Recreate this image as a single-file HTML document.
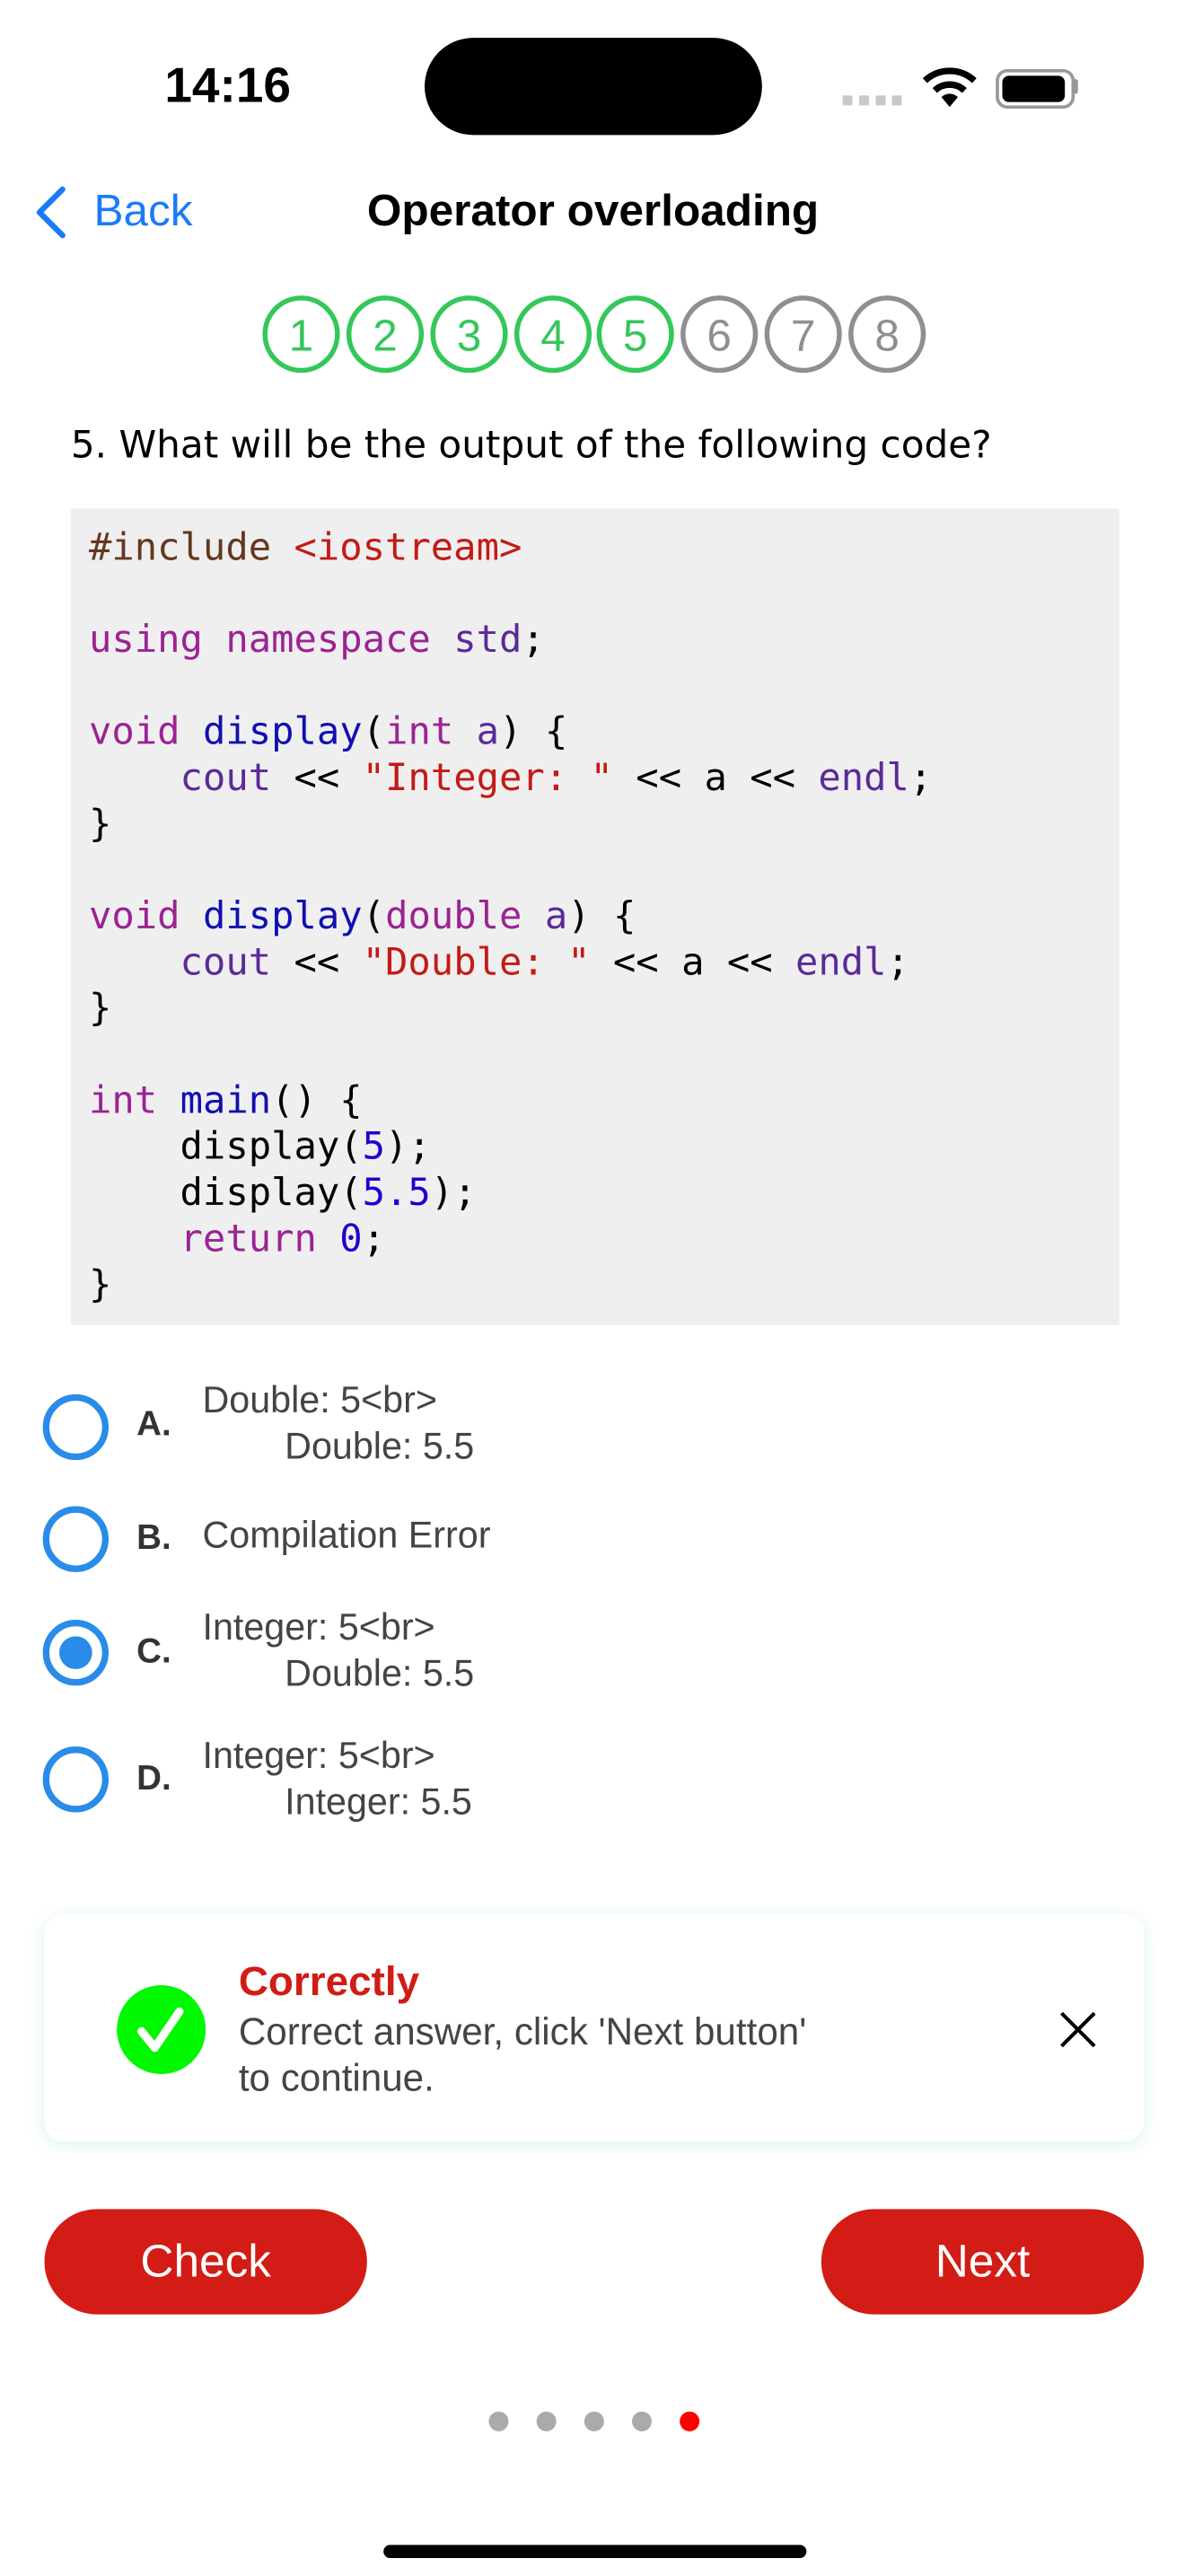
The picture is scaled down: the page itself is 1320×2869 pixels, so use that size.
<!DOCTYPE html>
<html><head><meta charset="utf-8"><style>
html,body{margin:0;padding:0;background:#fff;width:1320px;height:2868px;overflow:hidden}
#w{position:absolute;left:0;top:0;width:720px;height:1565px;transform:scale(1.83333);transform-origin:0 0;font-family:"Liberation Sans",sans-serif}
.a{position:absolute;white-space:pre}
.code{position:absolute;left:43px;top:309px;width:637px;height:496px;background:#efefef}
.code pre{margin:0;position:absolute;left:11px;top:10px;font-family:"DejaVu Sans Mono","Liberation Mono",monospace;font-size:23px;line-height:28px;color:#000}
.k{color:#9b2393}.f{color:#1010b0}.s{color:#c41a16}.p{color:#643820}.n{color:#1c00cf}.c{color:#5b2a99}
.rad{position:absolute;left:26px;width:32px;height:32px;border:4px solid #2a8ce8;border-radius:50%}
.lab{position:absolute;left:83px;font-weight:bold;font-size:21px;color:#333}
.opt{position:absolute;left:123px;font-size:22.5px;color:#444;line-height:28px;white-space:pre}
.btn{position:absolute;top:1342px;width:196px;height:64px;border-radius:32px;background:#d21c15;color:#fff;font-size:28px;text-align:center;line-height:64px}
.dot{position:absolute;top:1465px;width:12px;height:12px;border-radius:50%;background:#aaa}
</style></head><body><div id="w">
<div class="a" style="left:100px;top:36px;font-size:30px;font-weight:bold">14:16</div>
<div class="a" style="left:258px;top:23px;width:205px;height:59px;border-radius:30px;background:#000"></div>
<div class="a" style="left:512px;top:58px;width:36px;height:6px;background:repeating-linear-gradient(90deg,#c8c8c8 0 6px,transparent 6px 10px)"></div>
<svg class="a" style="left:560px;top:40px" width="34" height="26" viewBox="0 0 34 26"><path d="M2 9 A22 22 0 0 1 32 9" stroke="#000" stroke-width="4" fill="none"/><path d="M8 15 A13 13 0 0 1 26 15" stroke="#000" stroke-width="4" fill="none"/><path d="M12 19 L17 25 L22 19 A7 7 0 0 0 12 19Z" fill="#000"/></svg>
<div class="a" style="left:605px;top:42px;width:44px;height:20px;border:2px solid #999;border-radius:7px"></div>
<div class="a" style="left:609px;top:46px;width:38px;height:16px;background:#000;border-radius:4px"></div>
<div class="a" style="left:652px;top:48px;width:3px;height:9px;background:#999;border-radius:2px"></div>
<svg class="a" style="left:18px;top:112px" width="26" height="34"><path d="M20 3 L6 17 L20 31" stroke="#1a7cf5" stroke-width="3.5" fill="none" stroke-linecap="round" stroke-linejoin="round"/></svg>
<div class="a" style="left:57px;top:113px;font-size:27px;color:#1a7cf5">Back</div>
<div class="a" style="left:223px;top:113px;font-size:27px;font-weight:bold;color:#000">Operator overloading</div>
<svg class="a" style="left:0;top:170px" width="720" height="66">
<g font-family="Liberation Sans,sans-serif" font-size="27" text-anchor="middle" stroke-width="3" fill="none">
<circle cx="183" cy="33" r="22" stroke="#34c759"/><circle cx="234" cy="33" r="22" stroke="#34c759"/><circle cx="285" cy="33" r="22" stroke="#34c759"/><circle cx="336" cy="33" r="22" stroke="#34c759"/><circle cx="386" cy="33" r="22" stroke="#34c759"/><circle cx="437" cy="33" r="22" stroke="#8e8e93"/><circle cx="488" cy="33" r="22" stroke="#8e8e93"/><circle cx="539" cy="33" r="22" stroke="#8e8e93"/>
<text x="183" y="43" fill="#34c759" stroke="none">1</text><text x="234" y="43" fill="#34c759" stroke="none">2</text><text x="285" y="43" fill="#34c759" stroke="none">3</text><text x="336" y="43" fill="#34c759" stroke="none">4</text><text x="386" y="43" fill="#34c759" stroke="none">5</text><text x="437" y="43" fill="#8e8e93" stroke="none">6</text><text x="488" y="43" fill="#8e8e93" stroke="none">7</text><text x="539" y="43" fill="#8e8e93" stroke="none">8</text></g></svg>
<div class="a" style="left:43px;top:258px;font-size:23px;font-family:'DejaVu Sans',sans-serif">5. What will be the output of the following code?</div>
<div class="code"><pre><span class="p">#include </span><span class="s">&lt;iostream&gt;</span>

<span class="k">using namespace</span> <span class="c">std</span>;

<span class="k">void</span> <span class="f">display</span>(<span class="k">int</span> <span class="c">a</span>) {
    <span class="c">cout</span> &lt;&lt; <span class="s">"Integer: "</span> &lt;&lt; a &lt;&lt; <span class="c">endl</span>;
}

<span class="k">void</span> <span class="f">display</span>(<span class="k">double</span> <span class="c">a</span>) {
    <span class="c">cout</span> &lt;&lt; <span class="s">"Double: "</span> &lt;&lt; a &lt;&lt; <span class="c">endl</span>;
}

<span class="k">int</span> <span class="f">main</span>() {
    display(<span class="n">5</span>);
    display(<span class="n">5.5</span>);
    <span class="k">return</span> <span class="n">0</span>;
}</pre></div>
<div class="rad" style="top:847px"></div><div class="lab" style="top:854px">A.</div>
<div class="opt" style="top:837px">Double: 5&lt;br&gt;
        Double: 5.5</div>
<div class="rad" style="top:915px"></div><div class="lab" style="top:923px">B.</div>
<div class="opt" style="top:919px">Compilation Error</div>
<div class="rad" style="top:984px"></div><div class="a" style="left:36px;top:994px;width:20px;height:20px;border-radius:50%;background:#2a8ce8"></div><div class="lab" style="top:992px">C.</div>
<div class="opt" style="top:975px">Integer: 5&lt;br&gt;
        Double: 5.5</div>
<div class="rad" style="top:1061px"></div><div class="lab" style="top:1069px">D.</div>
<div class="opt" style="top:1053px">Integer: 5&lt;br&gt;
        Integer: 5.5</div>
<div class="a" style="left:27px;top:1163px;width:668px;height:138px;border-radius:12px;background:#fff;box-shadow:0 2px 10px rgba(60,200,100,0.18)"></div>
<div class="a" style="left:71px;top:1206px;width:54px;height:54px;border-radius:50%;background:#00f800"></div>
<svg class="a" style="left:71px;top:1206px" width="54" height="54"><path d="M15 28 L23 38 L38 16" stroke="#fff" stroke-width="5" fill="none" stroke-linecap="round" stroke-linejoin="round"/></svg>
<div class="a" style="left:145px;top:1190px;font-size:25px;font-weight:bold;color:#d01c15">Correctly</div>
<div class="a" style="left:145px;top:1220px;font-size:23px;color:#444;line-height:28px">Correct answer, click 'Next button'
to continue.</div>
<svg class="a" style="left:642px;top:1220px" width="26" height="26"><path d="M3 3 L23 23 M23 3 L3 23" stroke="#000" stroke-width="2.2"/></svg>
<div class="btn" style="left:27px">Check</div>
<div class="btn" style="left:499px">Next</div>
<div class="dot" style="left:297px"></div><div class="dot" style="left:326px"></div><div class="dot" style="left:355px"></div><div class="dot" style="left:384px"></div><div class="dot" style="left:413px;background:#f00"></div>
<div class="a" style="left:233px;top:1546px;width:257px;height:8px;border-radius:4px;background:#000"></div>
</div></body></html>
